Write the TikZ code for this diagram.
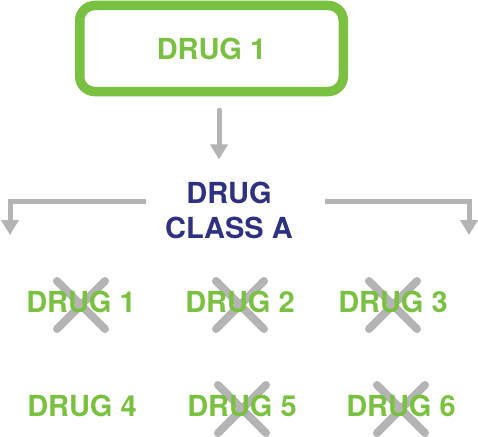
\documentclass[tikz,border=0pt]{standalone}
\usepackage{fontspec}
\setmainfont{TeX Gyre Heros}
\usetikzlibrary{arrows.meta,backgrounds}
\definecolor{druggreen}{RGB}{122,193,66}
\definecolor{classblue}{RGB}{46,49,128}
\definecolor{linegray}{RGB}{180,180,180}
\begin{document}
\begin{tikzpicture}[x=1pt, y=-1pt,
    drugbox/.style={rectangle, draw=druggreen, line width=9.5pt, rounded corners=15pt, minimum width=263.5pt, minimum height=86pt, text=druggreen, font=\fontsize{29}{35}\selectfont\bfseries},
    drugtxt/.style={inner sep=0pt, text=druggreen, font=\fontsize{29}{35}\selectfont\bfseries},
    classtxt/.style={inner sep=0pt, align=center, text=classblue, font=\fontsize{29}{35}\selectfont\bfseries},
    arrow/.style={-{Triangle[width=17pt,length=15pt]}, line width=5pt, draw=linegray},
    cross/.style={line width=8pt, line cap=round, draw=linegray}]
    \useasboundingbox (0,0) rectangle (478,436);

    \node[drugbox] (top) at (211.5,48.5) {\raisebox{-2.5pt}{DRUG 1}};
    \node[classtxt] (cls) at (229,210) {DRUG\\CLASS A};
    \coordinate (ltip) at (10,235);
    \coordinate (rtip) at (469,235);

    \node[drugtxt] (d1) at (81,302) {DRUG 1};
    \node[drugtxt] (d2) at (240,302) {DRUG 2};
    \node[drugtxt] (d3) at (393,302) {DRUG 3};
    \node[drugtxt] (d4) at (82,406) {DRUG 4};
    \node[drugtxt] (d5) at (242,406) {DRUG 5};
    \node[drugtxt] (d6) at (401,406) {DRUG 6};

    \draw[arrow, shorten <=14pt, shorten >=22pt, line cap=round] ([xshift=7.5pt]top.south) -- ([xshift=7.5pt]top.south |- cls.north);
    \draw[arrow, shorten <=19pt] ([yshift=8.5pt]cls.west) -| (ltip);
    \draw[arrow, shorten <=32pt] ([yshift=8.5pt]cls.east) -| (rtip);

    % crossed out drugs
    \begin{scope}[on background layer]
    \foreach \n in {d1,d2,d3,d5,d6}{
        \draw[cross] ([shift={(-24,-21)}]\n.center) -- ([shift={(24,27)}]\n.center);
        \draw[cross] ([shift={(24,-21)}]\n.center) -- ([shift={(-24,27)}]\n.center);
    }
    \end{scope}
\end{tikzpicture}
\end{document}
